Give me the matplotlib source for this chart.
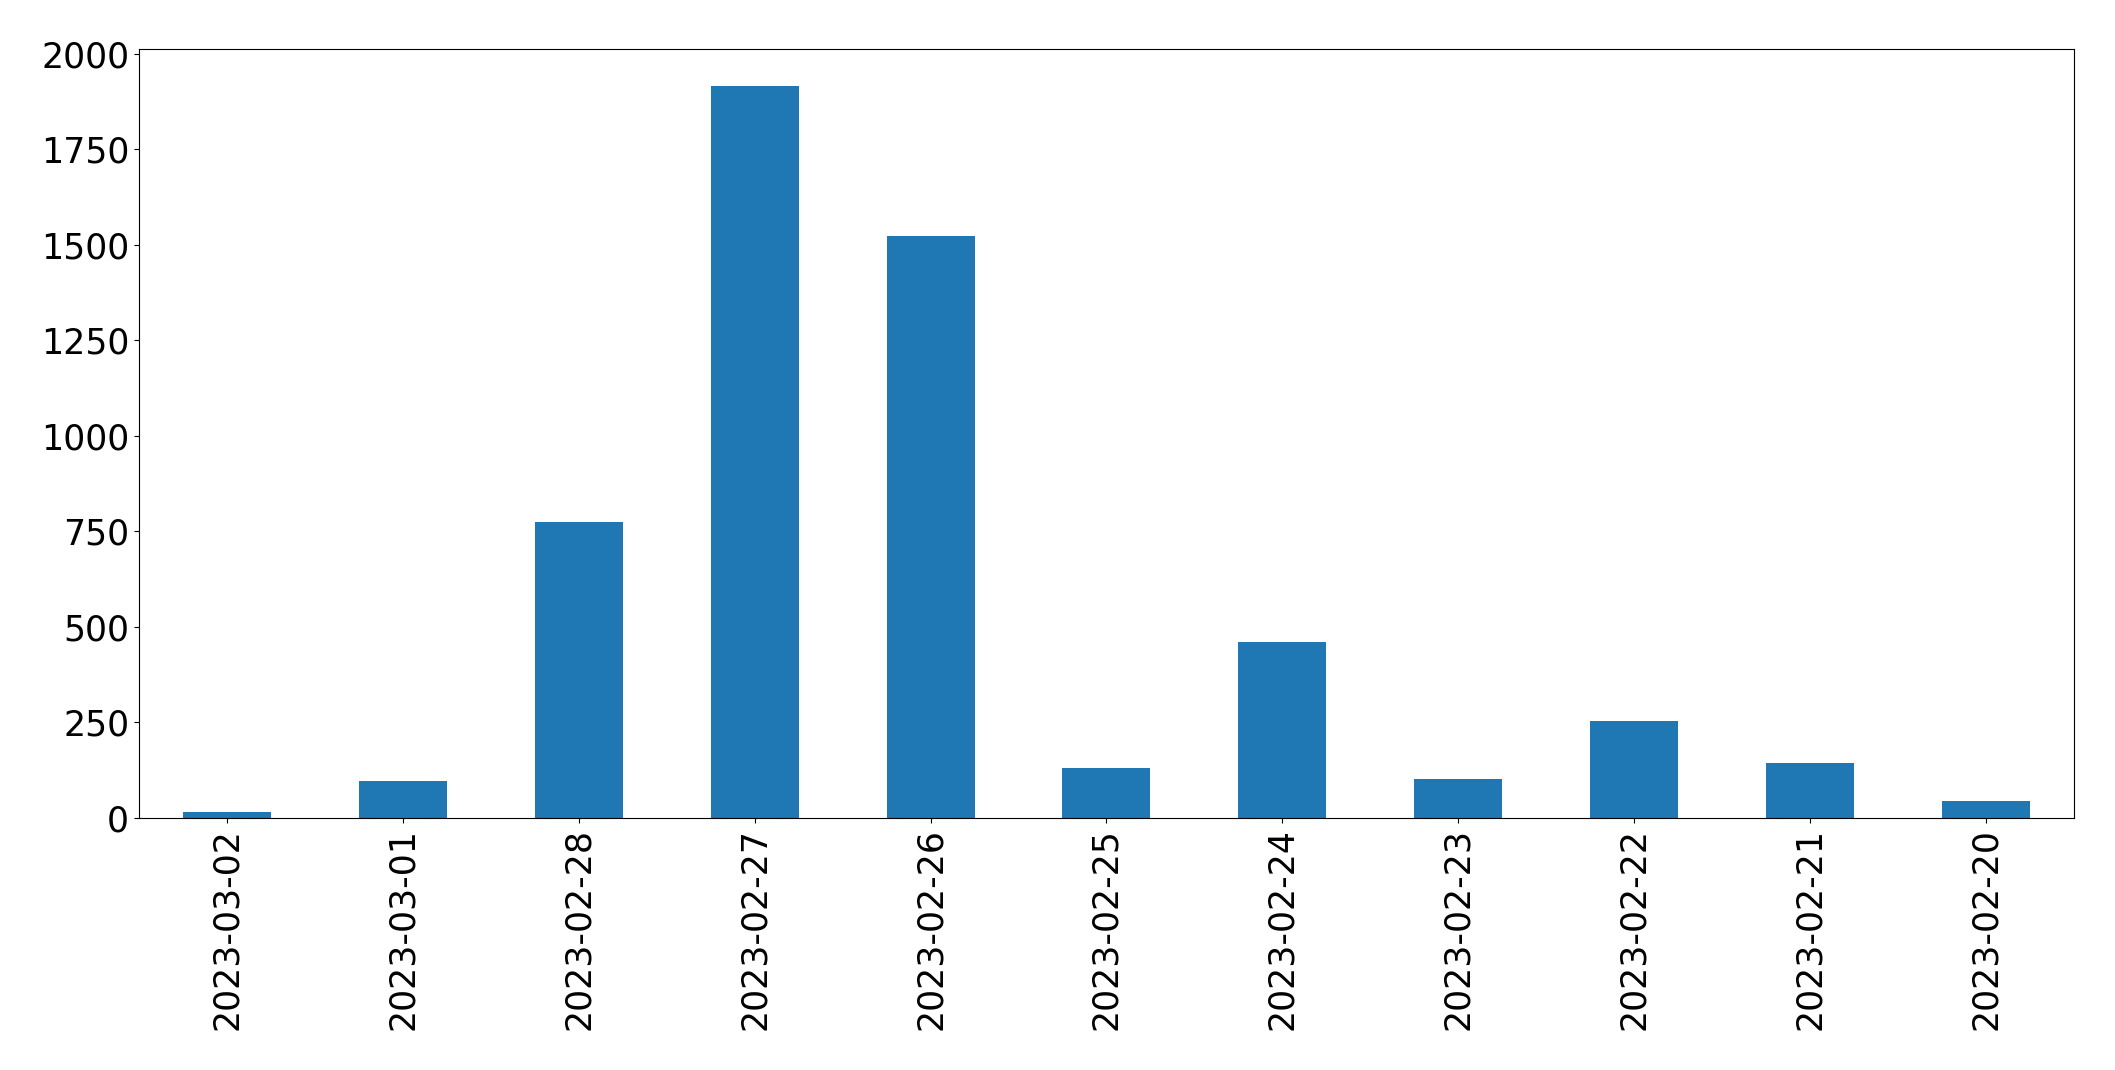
import matplotlib
matplotlib.use("Agg")
import matplotlib.pyplot as plt
import numpy as np

dates = ["2023-03-02", "2023-03-01", "2023-02-28", "2023-02-27", "2023-02-26",
         "2023-02-25", "2023-02-24", "2023-02-23", "2023-02-22", "2023-02-21",
         "2023-02-20"]
counts = [16, 97, 774, 1916, 1522, 131, 461, 103, 254, 144, 45]

fig, ax = plt.subplots(figsize=(21.15, 10.7), dpi=100)
x = np.arange(len(dates))
ax.bar(x, counts, width=0.5, color="#1f77b4")
ax.set_xlim(-0.5, len(dates) - 0.5)
ax.set_xticks(x)
ax.set_xticklabels(dates, rotation=90)
ax.tick_params(labelsize=25)

fig.subplots_adjust(left=0.0657, right=0.9806, top=0.954, bottom=0.2355)
fig.savefig("out.png", dpi=100)
